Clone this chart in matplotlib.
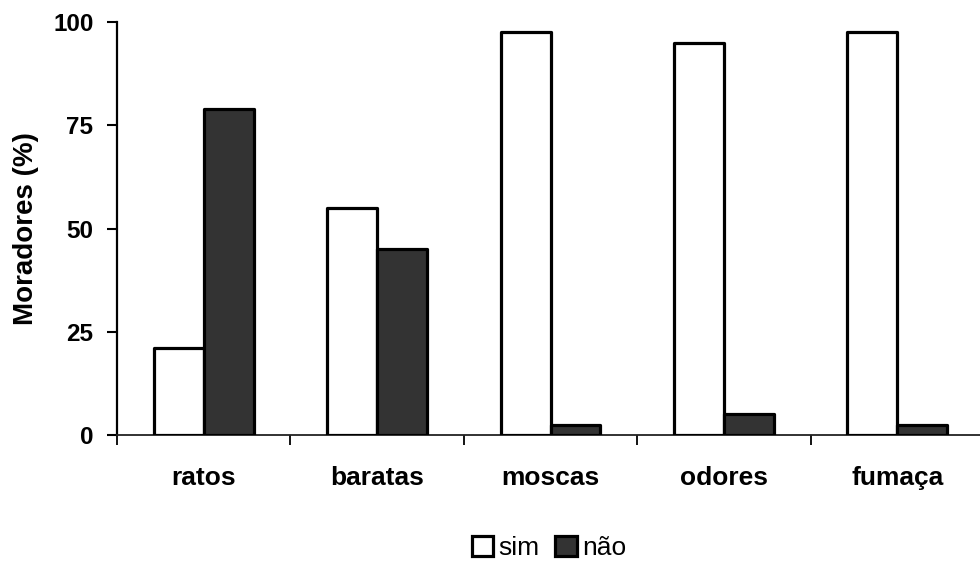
import matplotlib.pyplot as plt
import numpy as np
from matplotlib.ticker import FixedLocator, NullFormatter

categories = ["ratos", "baratas", "moscas", "odores", "fumaça"]
sim = [21, 55, 97.5, 95, 97.5]
nao = [79, 45, 2.5, 5, 2.5]
y_ticks = [0, 25, 50, 75, 100]

plt.rcParams["font.family"] = ["Liberation Sans", "DejaVu Sans"]

fig = plt.figure(figsize=(9.8, 5.62), dpi=100)
fig.patch.set_facecolor("white")
ax = fig.add_axes([117 / 980, 1 - 435 / 562, 867 / 980, 413 / 562])

x = np.arange(len(categories))
width = 0.288
edge = dict(edgecolor="black", linewidth=2.3, joinstyle="round")
ax.bar(x - width / 2, sim, width, color="white", label="sim", zorder=3, **edge)
ax.bar(x + width / 2, nao, width, color="#333333", label="não", zorder=3, **edge)

ax.set_xlim(-0.5, len(categories) - 0.5)
ax.set_ylim(0, 100)
ax.set_yticks(y_ticks)

# ticks sit between categories, labels sit at the centres
ax.xaxis.set_major_locator(FixedLocator(np.arange(-0.5, len(categories), 1.0)))
ax.xaxis.set_major_formatter(NullFormatter())
ax.xaxis.set_minor_locator(FixedLocator(x))
ax.set_xticklabels(categories, minor=True)
ax.tick_params(axis="x", which="major", direction="out", length=7, width=1.3)
ax.tick_params(axis="x", which="minor", length=0, pad=22, labelsize=19)
ax.tick_params(axis="y", direction="out", length=7, width=1.5, pad=10, labelsize=17.5)
for lbl in ax.get_xticklabels(minor=True) + ax.get_yticklabels():
    lbl.set_fontweight("bold")

ax.spines["top"].set_visible(False)
ax.spines["right"].set_visible(False)
ax.spines["left"].set_linewidth(1.6)
ax.spines["bottom"].set_linewidth(1.3)
ax.spines["bottom"].set_color("#222222")

ax.set_ylabel("Moradores (%)", fontsize=20, fontweight="bold", labelpad=10)

fig.legend(
    loc="center",
    bbox_to_anchor=(549 / 980, 1 - 548 / 562),
    ncol=2,
    frameon=False,
    fontsize=19,
    handlelength=0.8,
    handleheight=0.8,
    handletextpad=0.2,
    columnspacing=0.6,
)

fig.savefig("out.png", dpi=100)
